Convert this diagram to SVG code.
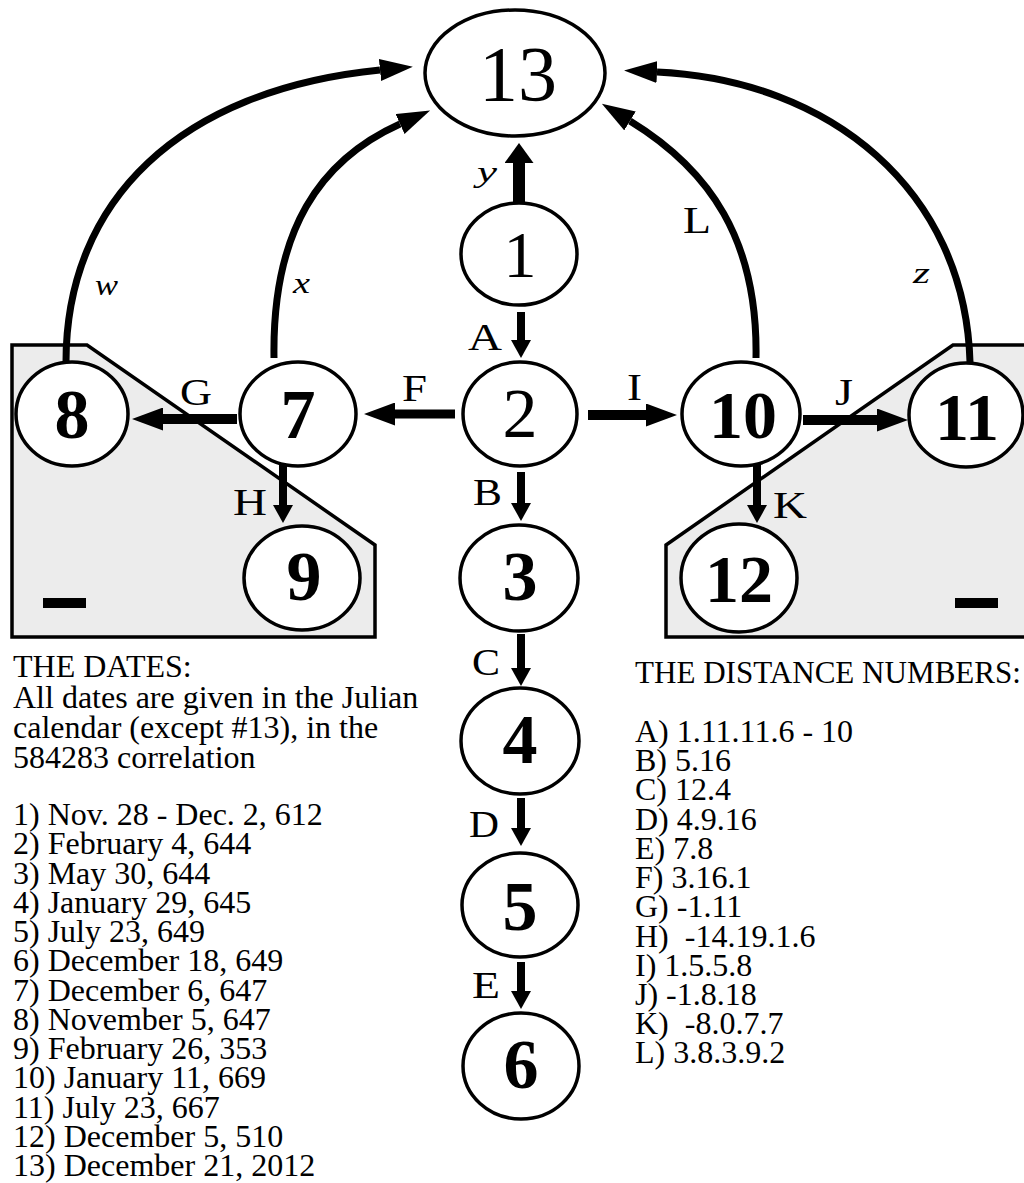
<svg xmlns="http://www.w3.org/2000/svg" width="1024" height="1183" viewBox="0 0 1024 1183">
<style>
.panel{fill:#ececec;stroke:#000;stroke-width:3.5}
.node ellipse{fill:#fff;stroke:#000;stroke-width:3.5}
.num{font-family:"Liberation Serif","Times New Roman",serif;text-anchor:middle;fill:#000}
.b{font-weight:bold}
.lbl{font-family:"Liberation Serif","Times New Roman",serif;font-size:38px;fill:#000}
.it{font-family:"Liberation Serif","Times New Roman",serif;font-style:italic;font-size:30px;fill:#000}
.txt{font-family:"Liberation Serif","Times New Roman",serif;font-size:32px;fill:#000}
.edge{stroke:#000;fill:none}
</style>
<defs>
<marker id="hBig" markerUnits="userSpaceOnUse" viewBox="0 0 20 29" markerWidth="20" markerHeight="29" refX="0" refY="14.5" orient="auto"><path d="M0,0 L20,14.5 L0,29 z" fill="#000"/></marker>
<marker id="hV" markerUnits="userSpaceOnUse" viewBox="0 0 18 20" markerWidth="18" markerHeight="20" refX="0" refY="10" orient="auto"><path d="M0,0 L18,10 L0,20 z" fill="#000"/></marker>
<marker id="hH" markerUnits="userSpaceOnUse" viewBox="0 0 31 23" markerWidth="31" markerHeight="23" refX="0" refY="11.5" orient="auto"><path d="M0,0 L31,11.5 L0,23 z" fill="#000"/></marker>
<marker id="hC" markerUnits="userSpaceOnUse" viewBox="0 0 33 22" markerWidth="33" markerHeight="22" refX="0" refY="11" orient="auto"><path d="M0,0 L33,11 L0,22 z" fill="#000"/></marker>
</defs>

<g id="panels">
<polygon class="panel" points="12,345 87,345 375,545 375,637 12,637"/>
<rect x="43" y="598" width="43" height="10" fill="#000"/>
<polygon class="panel" points="666,545 953,345 1030,345 1030,637 666,637"/>
<rect x="955" y="598" width="43" height="10" fill="#000"/>
</g>

<g id="connectors">
<line class="edge" x1="519" y1="205" x2="519" y2="163" stroke-width="12" marker-end="url(#hBig)"/>
<line class="edge" x1="521" y1="312" x2="521" y2="340" stroke-width="8" marker-end="url(#hV)"/>
<line class="edge" x1="521" y1="472" x2="521" y2="503" stroke-width="8" marker-end="url(#hV)"/>
<line class="edge" x1="521" y1="634" x2="521" y2="668" stroke-width="8" marker-end="url(#hV)"/>
<line class="edge" x1="521" y1="798" x2="521" y2="828" stroke-width="8" marker-end="url(#hV)"/>
<line class="edge" x1="521" y1="962" x2="521" y2="991" stroke-width="8" marker-end="url(#hV)"/>
<line class="edge" x1="283" y1="458" x2="283" y2="505" stroke-width="8" marker-end="url(#hV)"/>
<line class="edge" x1="757" y1="458" x2="757" y2="505" stroke-width="8" marker-end="url(#hV)"/>
<line class="edge" x1="455" y1="414" x2="395" y2="414" stroke-width="9" marker-end="url(#hH)"/>
<line class="edge" x1="237" y1="419" x2="163" y2="419" stroke-width="10" marker-end="url(#hH)"/>
<line class="edge" x1="588" y1="415" x2="646" y2="415" stroke-width="10" marker-end="url(#hH)"/>
<line class="edge" x1="803" y1="420" x2="877" y2="420" stroke-width="10" marker-end="url(#hH)"/>
<path class="edge" d="M66,362 C66,200 180,90 380,70" stroke-width="7" marker-end="url(#hC)"/>
<path class="edge" d="M274,358 C272,230 320,160 400,124" stroke-width="7" marker-end="url(#hC)"/>
<path class="edge" d="M756,358 C758,240 710,170 630,121" stroke-width="7" marker-end="url(#hC)"/>
<path class="edge" d="M970,362 C965,190 830,80 657,72" stroke-width="7" marker-end="url(#hC)"/>
</g>

<g id="edge-labels">
<text class="it" x="477" y="182" textLength="20" lengthAdjust="spacingAndGlyphs">y</text>
<text class="it" x="95" y="295" textLength="23" lengthAdjust="spacingAndGlyphs">w</text>
<text class="it" x="293" y="293" textLength="17" lengthAdjust="spacingAndGlyphs">x</text>
<text class="it" x="913" y="283" textLength="17" lengthAdjust="spacingAndGlyphs">z</text>
<text class="lbl" x="468" y="350" textLength="34" lengthAdjust="spacingAndGlyphs">A</text>
<text class="lbl" x="473" y="505" textLength="29" lengthAdjust="spacingAndGlyphs">B</text>
<text class="lbl" x="472" y="675" textLength="28" lengthAdjust="spacingAndGlyphs">C</text>
<text class="lbl" x="469" y="837" textLength="30" lengthAdjust="spacingAndGlyphs">D</text>
<text class="lbl" x="472" y="998" textLength="28" lengthAdjust="spacingAndGlyphs">E</text>
<text class="lbl" x="402" y="401" textLength="25" lengthAdjust="spacingAndGlyphs">F</text>
<text class="lbl" x="180" y="405" textLength="32" lengthAdjust="spacingAndGlyphs">G</text>
<text class="lbl" x="233" y="515" textLength="34" lengthAdjust="spacingAndGlyphs">H</text>
<text class="lbl" x="627" y="400" textLength="15" lengthAdjust="spacingAndGlyphs">I</text>
<text class="lbl" x="835" y="405" textLength="18" lengthAdjust="spacingAndGlyphs">J</text>
<text class="lbl" x="773" y="518" textLength="34" lengthAdjust="spacingAndGlyphs">K</text>
<text class="lbl" x="683" y="233" textLength="28" lengthAdjust="spacingAndGlyphs">L</text>
</g>

<g id="n13" class="node"><ellipse cx="515" cy="73" rx="90" ry="63"/><text class="num" x="518" y="100" font-size="78">13</text></g>
<g id="n1" class="node"><ellipse cx="519" cy="254" rx="58" ry="51"/><text class="num" x="520" y="277" font-size="66">1</text></g>
<g id="n2" class="node"><ellipse cx="520" cy="414" rx="57" ry="52"/><text class="num" x="520" y="437" font-size="70">2</text></g>
<g id="n3" class="node"><ellipse cx="519" cy="578" rx="59" ry="53"/><text class="num b" x="520" y="600" font-size="70">3</text></g>
<g id="n4" class="node"><ellipse cx="520" cy="741" rx="59" ry="53"/><text class="num b" x="520" y="763" font-size="70">4</text></g>
<g id="n5" class="node"><ellipse cx="520" cy="905" rx="58" ry="52"/><text class="num b" x="520" y="930" font-size="70">5</text></g>
<g id="n6" class="node"><ellipse cx="521" cy="1066" rx="58" ry="53"/><text class="num b" x="521" y="1088" font-size="70">6</text></g>
<g id="n7" class="node"><ellipse cx="298" cy="414" rx="58" ry="52"/><text class="num b" x="298" y="438" font-size="70">7</text></g>
<g id="n8" class="node"><ellipse cx="72" cy="414" rx="56" ry="52"/><text class="num b" x="72" y="438" font-size="70">8</text></g>
<g id="n9" class="node"><ellipse cx="302" cy="578" rx="58" ry="52"/><text class="num b" x="304" y="600" font-size="70">9</text></g>
<g id="n10" class="node"><ellipse cx="741" cy="414" rx="59" ry="52"/><text class="num b" x="743" y="438" font-size="68">10</text></g>
<g id="n11" class="node"><ellipse cx="966" cy="415" rx="57" ry="52"/><text class="num b" x="967" y="440" font-size="68">11</text></g>
<g id="n12" class="node"><ellipse cx="739" cy="578" rx="58" ry="54"/><text class="num b" x="739" y="602" font-size="68">12</text></g>

<g id="dates">
<text class="txt" x="13" y="677">THE DATES:</text>
<text class="txt" x="13" y="708">All dates are given in the Julian</text>
<text class="txt" x="13" y="738">calendar (except #13), in the</text>
<text class="txt" x="13" y="768">584283 correlation</text>
<text class="txt" x="13" y="825">1) Nov. 28 - Dec. 2, 612</text>
<text class="txt" x="13" y="854">2) February 4, 644</text>
<text class="txt" x="13" y="883.5">3) May 30, 644</text>
<text class="txt" x="13" y="913">4) January 29, 645</text>
<text class="txt" x="13" y="942">5) July 23, 649</text>
<text class="txt" x="13" y="971">6) December 18, 649</text>
<text class="txt" x="13" y="1000.5">7) December 6, 647</text>
<text class="txt" x="13" y="1030">8) November 5, 647</text>
<text class="txt" x="13" y="1059">9) February 26, 353</text>
<text class="txt" x="13" y="1088">10) January 11, 669</text>
<text class="txt" x="13" y="1117.5">11) July 23, 667</text>
<text class="txt" x="13" y="1147">12) December 5, 510</text>
<text class="txt" x="13" y="1176">13) December 21, 2012</text>
</g>

<g id="distances">
<text class="txt" x="635" y="683" textLength="386" lengthAdjust="spacingAndGlyphs">THE DISTANCE NUMBERS:</text>
<text class="txt" x="635" y="742">A) 1.11.11.6 - 10</text>
<text class="txt" x="635" y="771">B) 5.16</text>
<text class="txt" x="635" y="800">C) 12.4</text>
<text class="txt" x="635" y="829.5">D) 4.9.16</text>
<text class="txt" x="635" y="859">E) 7.8</text>
<text class="txt" x="635" y="888">F) 3.16.1</text>
<text class="txt" x="635" y="917">G) -1.11</text>
<text class="txt" x="635" y="946.5">H)&#160; -14.19.1.6</text>
<text class="txt" x="635" y="975.5">I) 1.5.5.8</text>
<text class="txt" x="635" y="1005">J) -1.8.18</text>
<text class="txt" x="635" y="1034">K)&#160; -8.0.7.7</text>
<text class="txt" x="635" y="1063">L) 3.8.3.9.2</text>
</g>
</svg>
